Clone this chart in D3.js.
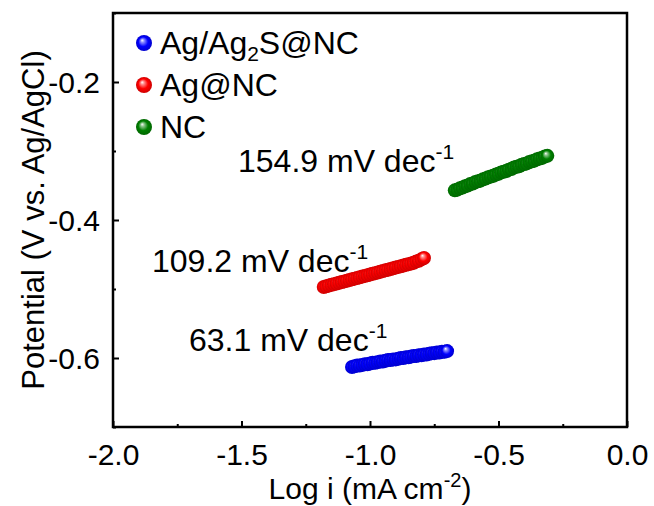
<!DOCTYPE html>
<html>
<head>
<meta charset="utf-8">
<script src="https://cdn.jsdelivr.net/npm/d3@7"></script>
<style>
  body { margin: 0; background: #fff; }
  svg { font-family: "Liberation Sans", Arial, sans-serif; }
</style>
</head>
<body>
<div id="container"></div>
<script>
/* CONSTANTS AND GLOBALS */
const width = 654,
  height = 506,
  margin = { top: 13, bottom: 79, left: 113, right: 27 };

/* DATA */
const xTicks = [-2.0, -1.5, -1.0, -0.5, 0.0];
const yTicks = [-0.6, -0.4, -0.2];

const blueX = [-1.07, -1.06, -1.05, -1.04, -1.03, -1.02, -1.01, -1.00, -0.99, -0.98,
  -0.97, -0.96, -0.95, -0.94, -0.93, -0.92, -0.91, -0.90, -0.89, -0.88,
  -0.87, -0.86, -0.85, -0.84, -0.83, -0.82, -0.81, -0.80, -0.79, -0.78,
  -0.77, -0.76, -0.75, -0.74, -0.73, -0.72, -0.71, -0.70];
const blueY = [-0.613, -0.612, -0.611, -0.611, -0.610, -0.609, -0.609, -0.608, -0.607, -0.607,
  -0.606, -0.605, -0.605, -0.604, -0.603, -0.603, -0.602, -0.602, -0.601, -0.600,
  -0.600, -0.599, -0.599, -0.598, -0.597, -0.597, -0.596, -0.596, -0.595, -0.595,
  -0.594, -0.593, -0.593, -0.592, -0.592, -0.591, -0.591, -0.590];

const redX = [-1.18, -1.17, -1.16, -1.15, -1.14, -1.13, -1.12, -1.11, -1.10, -1.09,
  -1.08, -1.07, -1.06, -1.05, -1.04, -1.03, -1.02, -1.01, -1.00, -0.99,
  -0.98, -0.97, -0.96, -0.95, -0.94, -0.93, -0.92, -0.91, -0.90, -0.89,
  -0.88, -0.87, -0.86, -0.85, -0.84, -0.83, -0.82, -0.81, -0.80, -0.79];
const redY = [-0.497, -0.496, -0.495, -0.494, -0.493, -0.492, -0.491, -0.490, -0.489, -0.488,
  -0.487, -0.486, -0.485, -0.484, -0.483, -0.482, -0.481, -0.480, -0.479, -0.478,
  -0.477, -0.476, -0.475, -0.474, -0.473, -0.472, -0.471, -0.470, -0.469, -0.468,
  -0.467, -0.466, -0.465, -0.464, -0.463, -0.462, -0.460, -0.459, -0.457, -0.455];

const greenX = [-0.67, -0.66, -0.65, -0.64, -0.63, -0.62, -0.61, -0.60, -0.59, -0.58,
  -0.57, -0.56, -0.55, -0.54, -0.53, -0.52, -0.51, -0.50, -0.49, -0.48,
  -0.47, -0.46, -0.45, -0.44, -0.43, -0.42, -0.41, -0.40, -0.39, -0.38,
  -0.37, -0.36, -0.35, -0.34, -0.33, -0.32, -0.31];
const greenY = [-0.357, -0.356, -0.354, -0.353, -0.351, -0.350, -0.348, -0.347, -0.345, -0.344,
  -0.343, -0.341, -0.340, -0.338, -0.337, -0.336, -0.334, -0.333, -0.331, -0.330,
  -0.329, -0.327, -0.326, -0.324, -0.323, -0.322, -0.320, -0.319, -0.318, -0.316,
  -0.315, -0.314, -0.312, -0.311, -0.310, -0.308, -0.307];

const seriesNames = ["Ag/Ag2S@NC", "Ag@NC", "NC"];
const seriesColors = ["#0000ff", "#ff0000", "#008000"];
const slopeLabels = ["63.1", "109.2", "154.9"];

const series = [
  { name: seriesNames[0], color: seriesColors[0], xs: blueX, ys: blueY },
  { name: seriesNames[1], color: seriesColors[1], xs: redX, ys: redY },
  { name: seriesNames[2], color: seriesColors[2], xs: greenX, ys: greenY },
];

/* SCALES */
const xScale = d3.scaleLinear()
  .domain([-2, 0])
  .range([margin.left, width - margin.right]);

const yScale = d3.scaleLinear()
  .domain([-0.7, -0.1])
  .range([height - margin.bottom, margin.top]);

const svg = d3.select("#container")
  .append("svg")
  .attr("width", width)
  .attr("height", height);

// ball gradients
const defs = svg.append("defs");
series.forEach((s, i) => {
  const g = defs.append("radialGradient")
    .attr("id", "ball" + i)
    .attr("cx", "50%").attr("cy", "50%").attr("r", "50%")
    .attr("fx", "38%").attr("fy", "32%");
  g.append("stop").attr("offset", "0%").attr("stop-color", "#ffffff");
  g.append("stop").attr("offset", "22%").attr("stop-color", d3.interpolateRgb("#ffffff", s.color)(0.45));
  g.append("stop").attr("offset", "60%").attr("stop-color", s.color);
  g.append("stop").attr("offset", "100%").attr("stop-color", d3.color(s.color).darker(0.6));
});

/* AXES */
const plotBottom = height - margin.bottom;
const fmt = d => d3.format(".1f")(d).replace("\u2212", "-");

const xAxis = d3.axisBottom(xScale)
  .tickValues(xTicks)
  .tickFormat(fmt)
  .tickSizeInner(-6)
  .tickSizeOuter(0)
  .tickPadding(19);

const xMinor = d3.axisBottom(xScale)
  .tickValues([-1.75, -1.25, -0.75, -0.25])
  .tickFormat("")
  .tickSizeInner(-3)
  .tickSizeOuter(0);

const yAxis = d3.axisLeft(yScale)
  .tickValues(yTicks)
  .tickFormat(fmt)
  .tickSizeInner(-6)
  .tickSizeOuter(0)
  .tickPadding(13);

const yMinor = d3.axisLeft(yScale)
  .tickValues([-0.7, -0.5, -0.3, -0.1])
  .tickFormat("")
  .tickSizeInner(-3)
  .tickSizeOuter(0);

const gx = svg.append("g")
  .attr("transform", `translate(0, ${plotBottom})`)
  .call(xAxis);
svg.append("g").attr("transform", `translate(0, ${plotBottom})`).call(xMinor);

const gy = svg.append("g")
  .attr("transform", `translate(${margin.left}, 0)`)
  .call(yAxis);
svg.append("g").attr("transform", `translate(${margin.left}, 0)`).call(yMinor);

svg.selectAll(".tick line").attr("stroke", "#000").attr("stroke-width", 2);
svg.selectAll(".domain").attr("stroke", "none");
svg.selectAll(".tick text")
  .attr("fill", "#000")
  .attr("font-family", "Liberation Sans, Arial, sans-serif")
  .attr("font-size", 30);
gx.selectAll(".tick text").attr("dy", 0).attr("y", 38);
gy.selectAll(".tick text").attr("dy", "0.36em");

// frame
svg.append("rect")
  .attr("x", margin.left)
  .attr("y", margin.top)
  .attr("width", width - margin.left - margin.right)
  .attr("height", height - margin.top - margin.bottom)
  .attr("fill", "none")
  .attr("stroke", "#000")
  .attr("stroke-width", 2.5);

/* AXIS TITLES */
const xTitle = svg.append("text")
  .attr("x", (margin.left + width - margin.right) / 2)
  .attr("y", 499)
  .attr("text-anchor", "middle")
  .attr("font-size", 30);
xTitle.append("tspan").text("Log i (mA cm");
xTitle.append("tspan").attr("dy", -12).attr("font-size", 20).text("-2");
xTitle.append("tspan").attr("dy", 12).text(")");

svg.append("text")
  .attr("transform", `translate(44, ${(margin.top + plotBottom) / 2}) rotate(-90)`)
  .attr("text-anchor", "middle")
  .attr("font-size", 31)
  .text("Potential (V vs. Ag/AgCl)");

/* POINTS */
series.forEach((s, i) => {
  const pts = s.xs.map((x, j) => [x, s.ys[j]]);
  svg.append("g")
    .selectAll("circle")
    .data(pts)
    .join("circle")
    .attr("cx", d => xScale(d[0]))
    .attr("cy", d => yScale(d[1]))
    .attr("r", 7)
    .attr("fill", `url(#ball${i})`);
});

/* LEGEND */
const legend = svg.append("g");
series.forEach((s, i) => {
  const ly = 43 + i * 42;
  legend.append("circle")
    .attr("cx", 144)
    .attr("cy", ly)
    .attr("r", 8)
    .attr("fill", `url(#ball${i})`);
  const t = legend.append("text")
    .attr("x", 160)
    .attr("y", ly + 11)
    .attr("font-size", 32);
  if (i === 0) {
    t.append("tspan").text("Ag/Ag");
    t.append("tspan").attr("dy", 7).attr("font-size", 21).text("2");
    t.append("tspan").attr("dy", -7).text("S@NC");
  } else {
    t.text(s.name);
  }
});

/* SLOPE LABELS */
const labelPos = [[189, 351], [152, 272], [238, 172]];
slopeLabels.forEach((lab, i) => {
  const t = svg.append("text")
    .attr("x", labelPos[i][0])
    .attr("y", labelPos[i][1])
    .attr("font-size", 32);
  t.append("tspan").text(lab + " mV dec");
  t.append("tspan").attr("dy", -13).attr("font-size", 21).text("-1");
});
</script>
</body>
</html>
